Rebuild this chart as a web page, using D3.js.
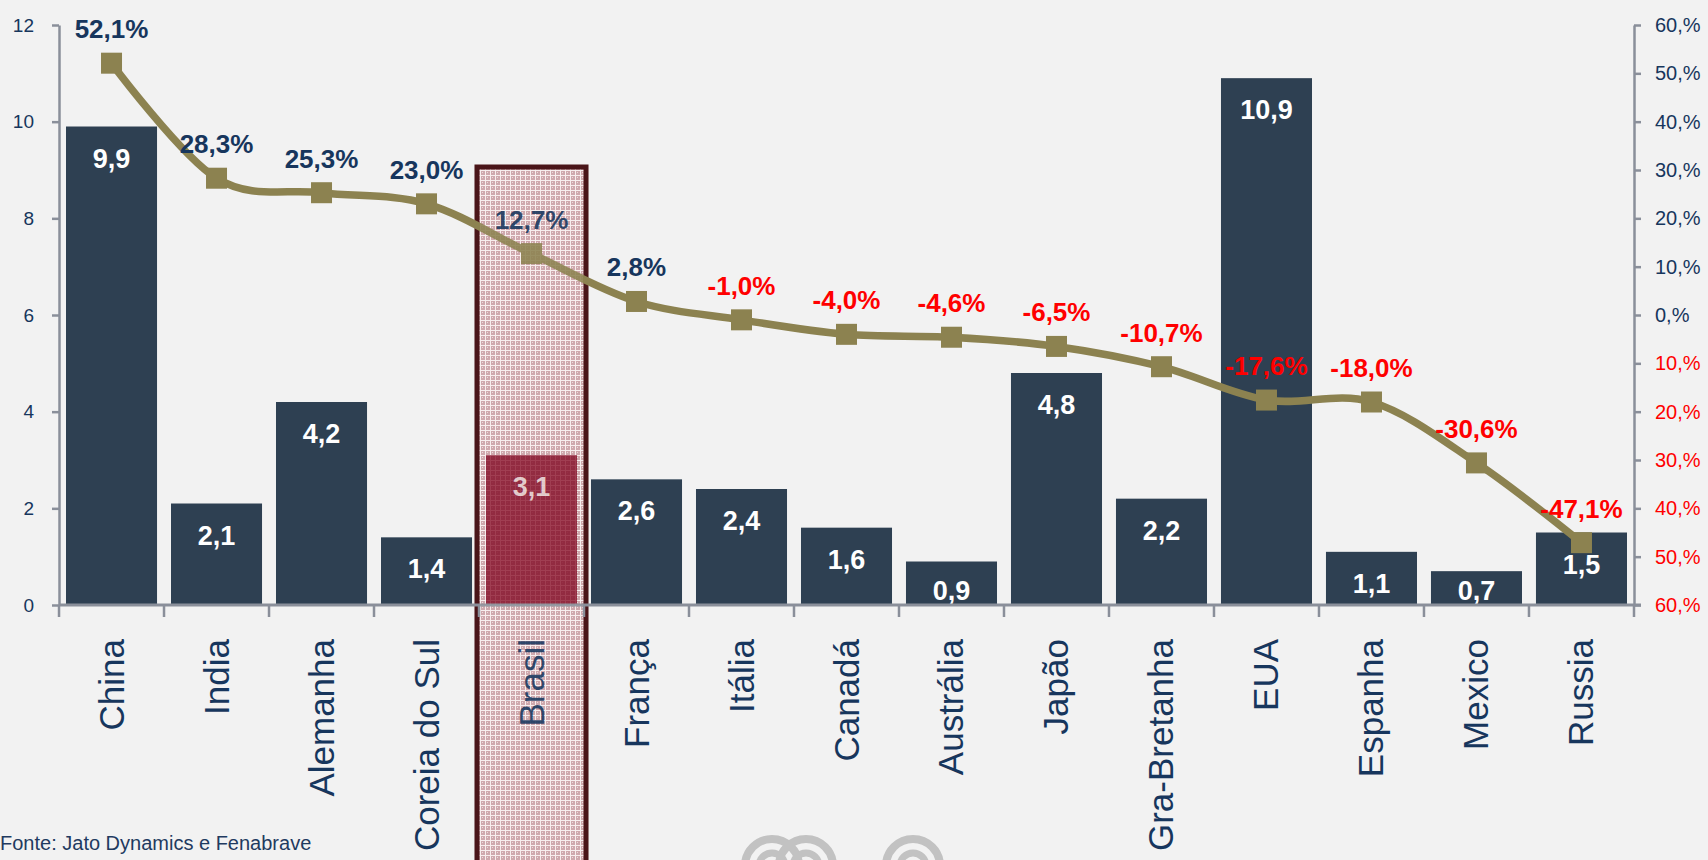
<!DOCTYPE html>
<html>
<head>
<meta charset="utf-8">
<script src="https://cdn.jsdelivr.net/npm/d3@7"></script>
<style>
  html, body { margin: 0; padding: 0; background: #f2f2f2; }
  svg { display: block; font-family: "Liberation Sans", Arial, sans-serif; }
</style>
</head>
<body>
<svg id="chart" width="1708" height="860"></svg>
<script>
// Data
var countries = ["China", "India", "Alemanha", "Coreia do Sul", "Brasil", "França", "Itália",
  "Canadá", "Austrália", "Japão", "Gra-Bretanha", "EUA", "Espanha", "Mexico", "Russia"];
var sales = [9.9, 2.1, 4.2, 1.4, 3.1, 2.6, 2.4, 1.6, 0.9, 4.8, 2.2, 10.9, 1.1, 0.7, 1.5]; // milhões
var growth = [52.1, 28.3, 25.3, 23.0, 12.7, 2.8, -1.0, -4.0, -4.6, -6.5, -10.7, -17.6, -18.0, -30.6, -47.1]; // %
var leftTicks = [0, 2, 4, 6, 8, 10, 12];
var rightTicks = [60, 50, 40, 30, 20, 10, 0, -10, -20, -30, -40, -50, -60];
var highlight = "Brasil";
var source = "Fonte: Jato Dynamics e Fenabrave";

// Style
var navy = "#17365d";
var red = "#ff0000";
var barColor = "#2e4052";
var lineColor = "#8c8250";
var axisColor = "#8a8f9a";

var svg = d3.select("#chart");
var plotLeft = 59, plotRight = 1634, plotTop = 25, plotBottom = 605;

var x = d3.scaleBand().domain(countries).range([plotLeft, plotRight])
  .paddingInner(0.133).paddingOuter(0.0667);
var yL = d3.scaleLinear().domain([0, 12]).range([plotBottom, plotTop]);
var yR = d3.scaleLinear().domain([-60, 60]).range([plotBottom, plotTop]);

// portuguese number format: comma decimal, plain hyphen
var pt = d3.formatLocale({ decimal: ",", thousands: ".", grouping: [3], currency: ["R$", ""], minus: "-" });
var fmt = pt.format(".1f");

// patterns for the highlighted country
var defs = svg.append("defs");
var pat = defs.append("pattern").attr("id", "check").attr("patternUnits", "userSpaceOnUse")
  .attr("width", 5).attr("height", 5);
pat.append("rect").attr("width", 5).attr("height", 5).attr("fill", "#cfa8ad");
pat.append("rect").attr("x", 0).attr("y", 0).attr("width", 5).attr("height", 1).attr("fill", "#f8eeee");
pat.append("rect").attr("x", 0).attr("y", 0).attr("width", 1).attr("height", 5).attr("fill", "#f8eeee");
pat.append("rect").attr("x", 2).attr("y", 2).attr("width", 1).attr("height", 1).attr("fill", "#ecdcdd");
var pat2 = defs.append("pattern").attr("id", "check2").attr("patternUnits", "userSpaceOnUse")
  .attr("width", 5).attr("height", 5);
pat2.append("rect").attr("width", 5).attr("height", 5).attr("fill", "#8a1a32");
pat2.append("rect").attr("x", 0).attr("y", 0).attr("width", 5).attr("height", 1).attr("fill", "#94263d");
pat2.append("rect").attr("x", 0).attr("y", 0).attr("width", 1).attr("height", 5).attr("fill", "#94263d");

// highlight box behind Brasil
var hx = x(highlight) - 9, hw = x.bandwidth() + 18;
svg.append("rect").attr("x", hx).attr("y", 167).attr("width", hw).attr("height", 720)
  .attr("fill", "url(#check)").attr("stroke", "#4a1519").attr("stroke-width", 5);

// bars
svg.append("g").selectAll("rect").data(countries).enter().append("rect")
  .attr("x", function (d) { return x(d); })
  .attr("y", function (d, i) { return yL(sales[i]); })
  .attr("width", x.bandwidth())
  .attr("height", function (d, i) { return yL(0) - yL(sales[i]); })
  .attr("fill", function (d) { return d == highlight ? "url(#check2)" : barColor; });

svg.append("g").selectAll("text").data(countries).enter().append("text")
  .attr("x", function (d) { return x(d) + x.bandwidth() / 2; })
  .attr("y", function (d, i) { return Math.min(yL(sales[i]) + 41, plotBottom - 5); })
  .attr("text-anchor", "middle")
  .attr("font-size", 27).attr("font-weight", "bold")
  .attr("fill", function (d) { return d == highlight ? "#e2cccc" : "#ffffff"; })
  .text(function (d, i) { return fmt(sales[i]); });

// left axis
var axL = svg.append("g").attr("transform", "translate(" + plotLeft + ",0)")
  .call(d3.axisLeft(yL).tickValues(leftTicks).tickSize(7).tickSizeOuter(0).tickPadding(18)
    .tickFormat(function (d) { return d; }));
axL.select(".domain").attr("stroke", axisColor).attr("stroke-width", 2.5);
axL.selectAll(".tick line").attr("stroke", axisColor).attr("stroke-width", 2.5);
axL.selectAll(".tick text").attr("fill", navy).attr("font-size", 19)
  .attr("font-family", "Liberation Sans, Arial, sans-serif");

// right axis (negative side in red, shown without sign)
var axR = svg.append("g").attr("transform", "translate(" + plotRight + ",0)")
  .call(d3.axisRight(yR).tickValues(rightTicks).tickSize(7).tickSizeOuter(0).tickPadding(14)
    .tickFormat(function (d) { return Math.abs(d) + ",%"; }));
axR.select(".domain").attr("stroke", axisColor).attr("stroke-width", 2.5);
axR.selectAll(".tick line").attr("stroke", axisColor).attr("stroke-width", 2.5);
axR.selectAll(".tick text").attr("fill", function (d) { return d < 0 ? red : navy; })
  .attr("font-size", 20).attr("font-family", "Liberation Sans, Arial, sans-serif");

// bottom axis with ticks on category boundaries
var bounds = countries.map(function (d) { return x(d) - x.step() * x.paddingInner() / 2; });
bounds.push(plotRight);
svg.append("line").attr("x1", plotLeft).attr("x2", plotRight + 7)
  .attr("y1", plotBottom).attr("y2", plotBottom)
  .attr("stroke", axisColor).attr("stroke-width", 3);
svg.append("g").selectAll("line").data(bounds).enter().append("line")
  .attr("x1", function (d) { return d; }).attr("x2", function (d) { return d; })
  .attr("y1", plotBottom).attr("y2", plotBottom + 12)
  .attr("stroke", axisColor).attr("stroke-width", 2.5);

// category labels
svg.append("g").selectAll("text").data(countries).enter().append("text")
  .attr("transform", function (d) {
    return "translate(" + (x(d) + x.bandwidth() / 2 + 12) + "," + 639 + ") rotate(-90)";
  })
  .attr("text-anchor", "end")
  .attr("font-size", 35).attr("fill", navy)
  .text(function (d) { return d; });

// growth line
var pts = countries.map(function (d, i) { return [x(d) + x.bandwidth() / 2, yR(growth[i])]; });
svg.append("path").datum(pts)
  .attr("d", d3.line().curve(d3.curveCardinal.tension(0)))
  .attr("fill", "none").attr("stroke", lineColor).attr("stroke-width", 7.5);
svg.append("g").selectAll("rect").data(pts).enter().append("rect")
  .attr("x", function (d) { return d[0] - 10.5; }).attr("y", function (d) { return d[1] - 10.5; })
  .attr("width", 21).attr("height", 21).attr("fill", lineColor);

svg.append("g").selectAll("text").data(countries).enter().append("text")
  .attr("x", function (d) { return x(d) + x.bandwidth() / 2; })
  .attr("y", function (d, i) { return yR(growth[i]) - 25; })
  .attr("text-anchor", "middle")
  .attr("font-size", 26).attr("font-weight", "bold")
  .attr("fill", function (d, i) { return growth[i] < 0 ? red : navy; })
  .text(function (d, i) { return fmt(growth[i]) + "%"; });

// light check overlay on the highlight box
svg.append("rect").attr("x", hx + 3).attr("y", 170).attr("width", hw - 6).attr("height", 720)
  .attr("fill", "url(#check)").attr("opacity", 0.12);

// source
svg.append("text").attr("x", 0).attr("y", 850).attr("font-size", 20).attr("fill", "#1f3a60")
  .text(source);

// watermark logo (cut off at the bottom)
var logo = svg.append("g").attr("fill", "none").attr("stroke", "#c2c2c2");
[[772, 866], [806, 866], [913, 866]].forEach(function (c) {
  logo.append("circle").attr("cx", c[0]).attr("cy", c[1]).attr("r", 27).attr("stroke-width", 8);
  logo.append("circle").attr("cx", c[0]).attr("cy", c[1]).attr("r", 13).attr("stroke-width", 7);
});
</script>
</body>
</html>
